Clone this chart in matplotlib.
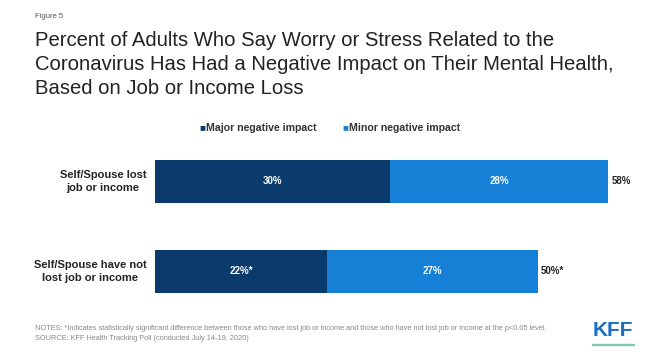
import matplotlib.pyplot as plt
from matplotlib.patches import Rectangle

plt.rcParams['font.family'] = ['Liberation Sans', 'DejaVu Sans']

# data
groups = ["Self/Spouse lost\njob or income", "Self/Spouse have not\nlost job or income"]
major = [30, 22]
minor = [28, 27]
major_lbl = ["30%", "22%*"]
minor_lbl = ["28%", "27%"]
total_lbl = ["58%", "50%*"]
series = ["Major negative impact", "Minor negative impact"]

c_major = "#0b3a6c"
c_minor = "#1580d6"

W, H = 654, 358
fig = plt.figure(figsize=(W / 100, H / 100), dpi=100)
fig.patch.set_facecolor("white")

# axes placed in pixel terms: x from 155 to 624 (0..60), y 136.5..316.5
ax = fig.add_axes([155 / W, 1 - 316.5 / H, 469 / W, 180 / H])
ax.set_xlim(0, 60)
ax.set_ylim(1.5, -0.5)
ax.axis("off")

ypos = list(range(len(groups)))
ax.barh(ypos, major, height=0.48, color=c_major)
ax.barh(ypos, minor, left=major, height=0.48, color=c_minor)

for i in ypos:
    ax.text(major[i] / 2, i, major_lbl[i], ha="center", va="center",
            color="white", fontsize=7, fontweight="bold")
    ax.text(major[i] + minor[i] / 2, i, minor_lbl[i], ha="center", va="center",
            color="white", fontsize=7, fontweight="bold")
    ax.text(major[i] + minor[i] + 0.4, i, total_lbl[i], ha="left", va="center",
            color="#222222", fontsize=7, fontweight="bold")
    ax.text(-1.1, i, groups[i], ha="right", va="center", multialignment="center",
            color="#222222", fontsize=8, fontweight="bold", linespacing=1.3)

# legend
fig.text(199 / W, 1 - 127 / H, "\u25a0", color=c_major, fontsize=7, va="center")
fig.text(206 / W, 1 - 128 / H, series[0], color="#333333", fontsize=7.6,
         fontweight="bold", va="center")
fig.text(342 / W, 1 - 127 / H, "\u25a0", color=c_minor, fontsize=7, va="center")
fig.text(349 / W, 1 - 128 / H, series[1], color="#333333", fontsize=7.6,
         fontweight="bold", va="center")

# titles
fig.text(35 / W, 1 - 17 / H, "Figure 5", fontsize=5.5, color="#555555", va="center")
title = ("Percent of Adults Who Say Worry or Stress Related to the\n"
         "Coronavirus Has Had a Negative Impact on Their Mental Health,\n"
         "Based on Job or Income Loss")
fig.text(35 / W, 1 - 31 / H, title, fontsize=14.6, color="#222222", va="top",
         linespacing=1.33)

# notes
fig.text(35 / W, 1 - 328 / H,
         "NOTES: *Indicates statistically significant difference between those who have lost job or income "
         "and those who have not lost job or income at the p<0.05 level.",
         fontsize=5.3, color="#888888", va="center")
fig.text(35 / W, 1 - 338 / H,
         "SOURCE: KFF Health Tracking Poll (conducted July 14-19, 2020)",
         fontsize=5.3, color="#888888", va="center")

# logo
fig.text(613 / W, 1 - 331 / H, "KFF", fontsize=15, fontweight="bold",
         color="#1a6fc2", ha="center", va="center")
fig.patches.append(Rectangle((592 / W, 1 - 345 / H), 42 / W, 1.5 / H,
                             transform=fig.transFigure, color="#7fc8a9"))

fig.savefig("out.png", dpi=100, facecolor="white")
